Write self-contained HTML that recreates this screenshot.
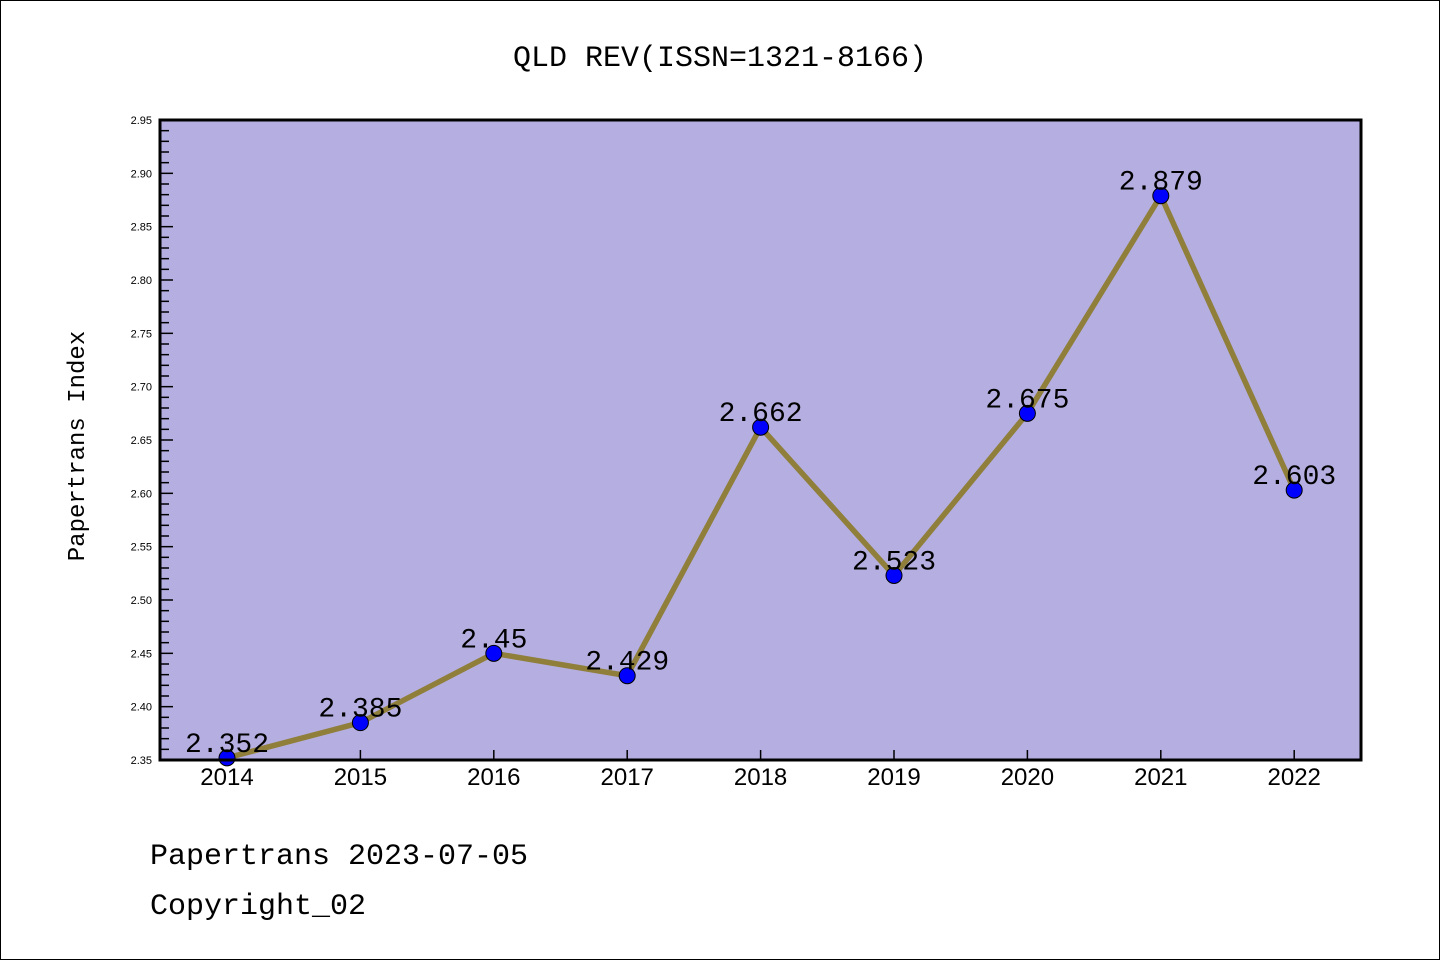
<!DOCTYPE html>
<html><head><meta charset="utf-8"><style>
body{margin:0;background:#fff}
svg{display:block}
text{font-family:"Liberation Mono","Noto Sans CJK SC",monospace}
.sans{font-family:"Liberation Sans","Noto Sans CJK SC",sans-serif}
</style></head><body>
<svg id="chart" width="1440" height="960">
<rect x="0.5" y="0.5" width="1439" height="959" fill="#fff" stroke="#000"/>
<text x="720" y="66" text-anchor="middle" font-size="30">QLD REV(ISSN=1321-8166)</text>
<rect x="160" y="120" width="1201" height="640" fill="#b5aee1"/>
<g id="ticks"></g>
<g id="series"></g>
<rect x="160" y="120" width="1201" height="640" fill="none" stroke="#000" stroke-width="3"/>
<text transform="translate(84,446) rotate(-90)" text-anchor="middle" font-size="24">Papertrans Index</text>
<text x="150" y="864" font-size="30">Papertrans 2023-07-05</text>
<text x="150" y="914" font-size="30">Copyright_02</text>
</svg>
<script>
const years=["2014","2015","2016","2017","2018","2019","2020","2021","2022"];
const values=[2.352,2.385,2.45,2.429,2.662,2.523,2.675,2.879,2.603];
const labels=["2.352","2.385","2.45","2.429","2.662","2.523","2.675","2.879","2.603"];
const yTicks=[2.35,2.40,2.45,2.50,2.55,2.60,2.65,2.70,2.75,2.80,2.85,2.90,2.95];
const yMin=2.35,yMax=2.95;
const NS="http://www.w3.org/2000/svg";
function y(v){return 760-(v-yMin)/(yMax-yMin)*640;}
function x(i){return 227+i*133.4;}
function mk(t,a,p){const e=document.createElementNS(NS,t);for(const k in a)e.setAttribute(k,a[k]);p.appendChild(e);return e;}
const tg=document.getElementById('ticks'),sg=document.getElementById('series');
yTicks.forEach((v,i)=>{
  const l=mk('line',{x1:160,x2:173,y1:y(v),y2:y(v),stroke:'#000','stroke-width':1.5},tg);
  
  
  const t=mk('text',{x:152,y:y(v)+4,'text-anchor':'end','font-size':11,class:'sans'},tg);
  t.textContent=v.toFixed(2);
  
  
  if(i<yTicks.length-1){for(let k=1;k<5;k++){const vv=v+k*0.01;
    const m=mk('line',{x1:160,x2:169,y1:y(vv),y2:y(vv),stroke:'#000','stroke-width':1.5},tg);
    
    }}
});
years.forEach((yr,i)=>{
  const l=mk('line',{x1:x(i),x2:x(i),y1:760,y2:750,stroke:'#000','stroke-width':1.5},tg);
  
  
  const t=mk('text',{x:x(i),y:785,'text-anchor':'middle','font-size':24,class:'sans'},tg);
  t.textContent=yr;
  
  
});
const pl=mk('polyline',{points:values.map((v,i)=>x(i)+','+y(v)).join(' '),fill:'none',stroke:'#8f7f3a','stroke-width':5.5},sg);


values.forEach((v,i)=>{
  const c=mk('circle',{cx:x(i),cy:y(v),r:8,fill:'#0000ff',stroke:'#000','stroke-width':1},sg);
  
  
  const t=mk('text',{x:x(i),y:y(v)-6,'text-anchor':'middle','font-size':28},sg);
  t.textContent=labels[i];
  
  
});
</script>
</body></html>
